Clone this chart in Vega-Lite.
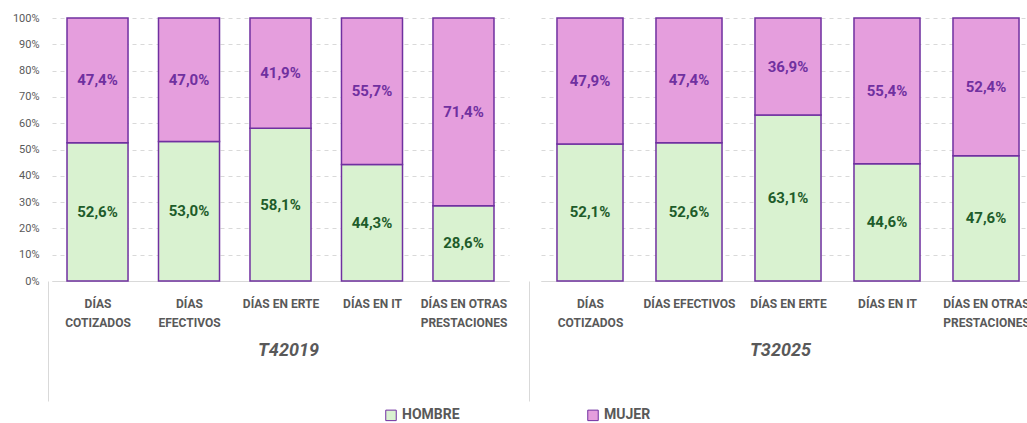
{
  "$schema": "https://vega.github.io/schema/vega-lite/v6.json",
  "padding": {"left": 12, "top": 12, "right": 0, "bottom": 0},
  "background": "white",
  "bounds": "flush",
  "config": {
    "locale": {"number": {"decimal": ",", "thousands": ".", "grouping": [3], "currency": ["", " €"]}},
    "view": {"stroke": null},
    "font": "Roboto",
    "concat": {"spacing": 32}
  },
  "data": {
    "values": [
      {"periodo": "T42019", "categoria": "DÍAS COTIZADOS", "sexo": "HOMBRE", "valor": 0.526},
      {"periodo": "T42019", "categoria": "DÍAS COTIZADOS", "sexo": "MUJER", "valor": 0.474},
      {"periodo": "T42019", "categoria": "DÍAS EFECTIVOS", "sexo": "HOMBRE", "valor": 0.530},
      {"periodo": "T42019", "categoria": "DÍAS EFECTIVOS", "sexo": "MUJER", "valor": 0.470},
      {"periodo": "T42019", "categoria": "DÍAS EN ERTE", "sexo": "HOMBRE", "valor": 0.581},
      {"periodo": "T42019", "categoria": "DÍAS EN ERTE", "sexo": "MUJER", "valor": 0.419},
      {"periodo": "T42019", "categoria": "DÍAS EN IT", "sexo": "HOMBRE", "valor": 0.443},
      {"periodo": "T42019", "categoria": "DÍAS EN IT", "sexo": "MUJER", "valor": 0.557},
      {"periodo": "T42019", "categoria": "DÍAS EN OTRAS PRESTACIONES", "sexo": "HOMBRE", "valor": 0.286},
      {"periodo": "T42019", "categoria": "DÍAS EN OTRAS PRESTACIONES", "sexo": "MUJER", "valor": 0.714},
      {"periodo": "T32025", "categoria": "DÍAS COTIZADOS", "sexo": "HOMBRE", "valor": 0.521},
      {"periodo": "T32025", "categoria": "DÍAS COTIZADOS", "sexo": "MUJER", "valor": 0.479},
      {"periodo": "T32025", "categoria": "DÍAS EFECTIVOS", "sexo": "HOMBRE", "valor": 0.526},
      {"periodo": "T32025", "categoria": "DÍAS EFECTIVOS", "sexo": "MUJER", "valor": 0.474},
      {"periodo": "T32025", "categoria": "DÍAS EN ERTE", "sexo": "HOMBRE", "valor": 0.631},
      {"periodo": "T32025", "categoria": "DÍAS EN ERTE", "sexo": "MUJER", "valor": 0.369},
      {"periodo": "T32025", "categoria": "DÍAS EN IT", "sexo": "HOMBRE", "valor": 0.446},
      {"periodo": "T32025", "categoria": "DÍAS EN IT", "sexo": "MUJER", "valor": 0.554},
      {"periodo": "T32025", "categoria": "DÍAS EN OTRAS PRESTACIONES", "sexo": "HOMBRE", "valor": 0.476},
      {"periodo": "T32025", "categoria": "DÍAS EN OTRAS PRESTACIONES", "sexo": "MUJER", "valor": 0.524}
    ]
  },
  "resolve": {"scale": {"x": "independent", "color": "shared"}, "legend": {"color": "shared"}},
  "hconcat": [
    {
      "width": 457,
      "height": 263,
      "transform": [{"filter": "datum.periodo == 'T42019'"}],
      "encoding": {
        "x": {
          "field": "categoria", "type": "nominal", "sort": null,
          "scale": {"paddingInner": 0.333, "paddingOuter": 0.164, "align": 0.5},
          "axis": {
            "title": "T42019",
            "labelAngle": 0,
            "labelExpr": "datum.value == 'DÍAS COTIZADOS' ? ['DÍAS', 'COTIZADOS'] : datum.value == 'DÍAS EFECTIVOS' ? ['DÍAS', 'EFECTIVOS'] : datum.value == 'DÍAS EN OTRAS PRESTACIONES' ? ['DÍAS EN OTRAS', 'PRESTACIONES'] : datum.value",
            "labelColor": "#595959", "labelFontWeight": "bold", "labelFontSize": 12,
            "labelLineHeight": 19, "labelBaseline": "top", "labelPadding": -103,
            "labelOffset": 49.5,
            "domainColor": "#d9d9d9", "domainWidth": 1,
            "ticks": true, "tickSize": 120, "tickColor": "#d9d9d9", "tickOffset": -49.5,
            "tickOpacity": {"condition": {"test": "datum.value == 'DÍAS COTIZADOS'", "value": 1}, "value": 0},
            "titleFontStyle": "italic", "titleFontSize": 18, "titleFontWeight": "bold",
            "titleColor": "#595959", "titleY": 69, "titleX": 236, "titleAlign": "center", "titleBaseline": "middle"
          }
        },
        "y": {
          "field": "valor", "type": "quantitative", "stack": "zero",
          "scale": {"domain": [0, 1]},
          "axis": {
            "title": null, "format": ".0%", "values": [0, 0.1, 0.2, 0.3, 0.4, 0.5, 0.6, 0.7, 0.8, 0.9, 1],
            "domain": false, "ticks": false, "tickSize": 0, "labelPadding": 13,
            "labelColor": "#595959", "labelFontSize": 11,
            "gridColor": "#d9d9d9", "gridDash": [4, 4], "gridWidth": 1
          }
        },
        "order": {"field": "sexo", "sort": "ascending"}
      },
      "layer": [
        {
          "mark": {"type": "bar", "stroke": "#7030a0", "strokeWidth": 1.5},
          "encoding": {
            "color": {
              "field": "sexo", "type": "nominal",
              "scale": {"domain": ["HOMBRE", "MUJER"], "range": ["#d9f2d0", "#e59edd"]},
              "legend": {
                "title": null, "orient": "none", "direction": "horizontal",
                "legendX": 332, "legendY": 390,
                "symbolType": "square", "symbolSize": 110, "symbolStrokeWidth": 1,
                "labelFontWeight": "bold", "labelFontSize": 14, "labelColor": "#595959",
                "columnPadding": 125
              }
            }
          }
        },
        {
          "mark": {"type": "text", "fontWeight": "bold", "fontSize": 15, "font": "Liberation Sans Narrow, Roboto"},
          "encoding": {
            "y": {"field": "valor", "type": "quantitative", "stack": "zero", "bandPosition": 0.5},
            "detail": {"field": "sexo"},
            "text": {"field": "valor", "type": "quantitative", "format": ".1%"},
            "color": {"condition": {"test": "datum.sexo == 'HOMBRE'", "value": "#1e5c2a"}, "value": "#7030a0"}
          }
        }
      ]
    },
    {
      "width": 486,
      "height": 263,
      "transform": [{"filter": "datum.periodo == 'T32025'"}],
      "encoding": {
        "x": {
          "field": "categoria", "type": "nominal", "sort": null,
          "scale": {"paddingInner": 0.333, "paddingOuter": 0.121, "align": 0.667},
          "axis": {
            "title": "T32025",
            "labelAngle": 0,
            "labelExpr": "datum.value == 'DÍAS COTIZADOS' ? ['DÍAS', 'COTIZADOS'] : datum.value == 'DÍAS EN OTRAS PRESTACIONES' ? ['DÍAS EN OTRAS', 'PRESTACIONES'] : datum.value",
            "labelColor": "#595959", "labelFontWeight": "bold", "labelFontSize": 12,
            "labelLineHeight": 19, "labelBaseline": "top", "labelPadding": -103,
            "labelOffset": 61,
            "domainColor": "#d9d9d9", "domainWidth": 1,
            "ticks": true, "tickSize": 120, "tickColor": "#d9d9d9", "tickOffset": -61,
            "tickOpacity": {"condition": {"test": "datum.value == 'DÍAS COTIZADOS'", "value": 1}, "value": 0},
            "titleFontStyle": "italic", "titleFontSize": 18, "titleFontWeight": "bold",
            "titleColor": "#595959", "titleY": 69, "titleX": 239, "titleAlign": "center", "titleBaseline": "middle"
          }
        },
        "y": {
          "field": "valor", "type": "quantitative", "stack": "zero",
          "scale": {"domain": [0, 1]},
          "axis": {
            "title": null, "labels": false, "values": [0, 0.1, 0.2, 0.3, 0.4, 0.5, 0.6, 0.7, 0.8, 0.9, 1],
            "domain": false, "ticks": false, "tickSize": 0,
            "gridColor": "#d9d9d9", "gridDash": [4, 4], "gridWidth": 1
          }
        },
        "order": {"field": "sexo", "sort": "ascending"}
      },
      "layer": [
        {
          "mark": {"type": "bar", "stroke": "#7030a0", "strokeWidth": 1.5},
          "encoding": {
            "color": {"field": "sexo", "type": "nominal"}
          }
        },
        {
          "mark": {"type": "text", "fontWeight": "bold", "fontSize": 15, "font": "Liberation Sans Narrow, Roboto"},
          "encoding": {
            "y": {"field": "valor", "type": "quantitative", "stack": "zero", "bandPosition": 0.5},
            "detail": {"field": "sexo"},
            "text": {"field": "valor", "type": "quantitative", "format": ".1%"},
            "color": {"condition": {"test": "datum.sexo == 'HOMBRE'", "value": "#1e5c2a"}, "value": "#7030a0"}
          }
        }
      ]
    }
  ]
}
